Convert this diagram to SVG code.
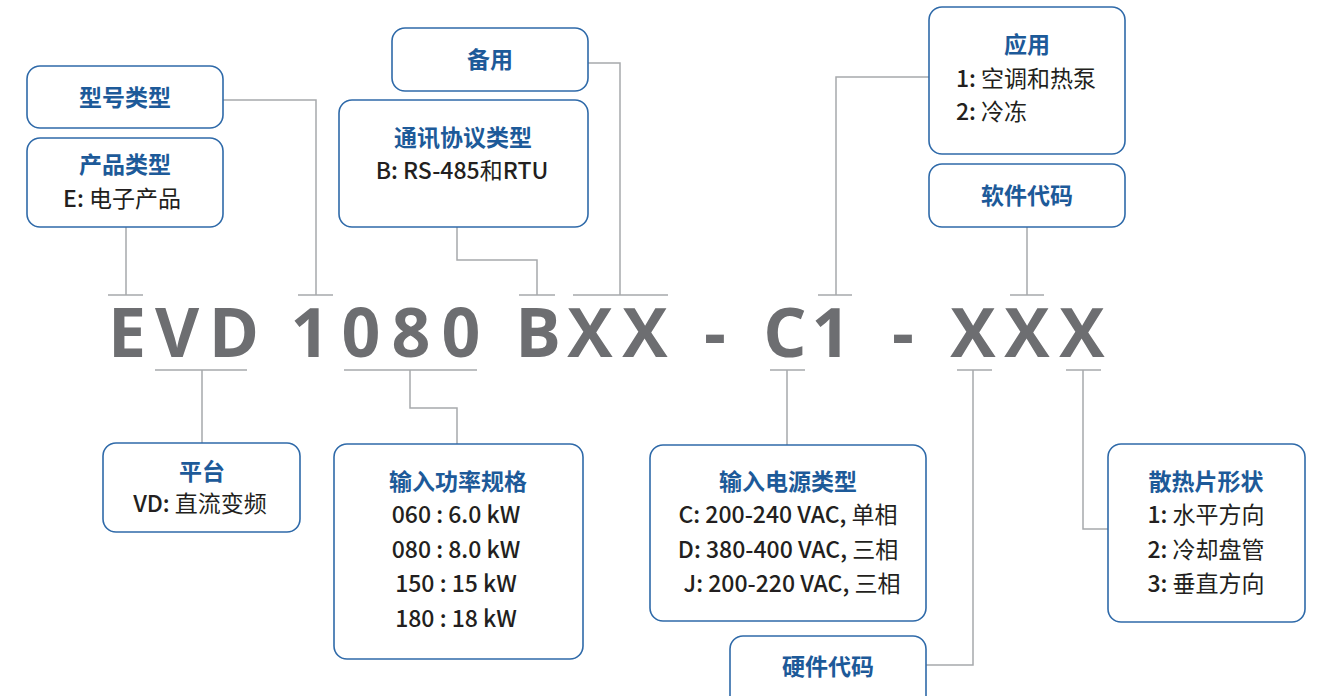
<svg xmlns="http://www.w3.org/2000/svg" width="1318" height="696" viewBox="0 0 1318 696">
<style>
.box{fill:#fff;stroke:#2f6aa9;stroke-width:1.6}
.t{font-family:"Noto Sans CJK SC","Noto Sans",sans-serif;font-size:23px;font-weight:700;fill:#1d5a99;text-anchor:middle}
.b{font-family:"Noto Sans CJK SC","Noto Sans",sans-serif;font-size:23px;font-weight:400;fill:#231f20;text-anchor:middle}
.b tspan{font-weight:500}
.bl{text-anchor:start}
.big{font-family:"Open Sans","Liberation Sans",sans-serif;font-size:68px;font-weight:700;fill:#6d6e71;text-anchor:middle}
.c{fill:none;stroke:#a7a9ac;stroke-width:1.5}
</style>
<rect width="1318" height="696" fill="#fff"/>
<g id="connectors">
<path class="c" d="M108 295H143M126 227V295"/>
<path class="c" d="M298 295H333M223 100H316V295"/>
<path class="c" d="M519 295H555M457 227V260H537V295"/>
<path class="c" d="M573 295H668M588 63H620V295"/>
<path class="c" d="M818 295H852M929 77H836V295"/>
<path class="c" d="M1010 295H1044M1027 227V295"/>
<path class="c" d="M155 370H247M202 370V443"/>
<path class="c" d="M344 370H477M410 370V408H457V444"/>
<path class="c" d="M770 370H805M787 370V445"/>
<path class="c" d="M957 370H992M973 370V665H926"/>
<path class="c" d="M1066 370H1101M1083 370V529H1108"/>
</g>
<g id="code">
<text class="big" y="357"><tspan x="127">E</tspan><tspan x="177">V</tspan><tspan x="234">D</tspan><tspan x="310">1</tspan><tspan x="361">0</tspan><tspan x="411">8</tspan><tspan x="461">0</tspan><tspan x="538">B</tspan><tspan x="590">X</tspan><tspan x="645">X</tspan><tspan x="715">-</tspan><tspan x="785">C</tspan><tspan x="831">1</tspan><tspan x="903">-</tspan><tspan x="973">X</tspan><tspan x="1027">X</tspan><tspan x="1082">X</tspan></text>
</g>
<g id="model-type">
<rect class="box" x="27" y="66" width="196" height="62" rx="13"/>
<text class="t" x="125" y="106">型号类型</text>
</g>
<g id="product-type">
<rect class="box" x="27" y="138" width="196" height="89" rx="13"/>
<text class="t" x="125" y="173">产品类型</text>
<text class="b" x="122" y="207"><tspan>E:</tspan> 电子产品</text>
</g>
<g id="spare">
<rect class="box" x="392" y="28" width="196" height="63" rx="13"/>
<text class="t" x="490" y="68">备用</text>
</g>
<g id="protocol">
<rect class="box" x="339" y="100" width="249" height="127" rx="13"/>
<text class="t" x="463" y="146">通讯协议类型</text>
<text class="b" x="462" y="179"><tspan>B: RS-485</tspan>和<tspan>RTU</tspan></text>
</g>
<g id="application">
<rect class="box" x="929" y="7" width="196" height="147" rx="13"/>
<text class="t" x="1027" y="53">应用</text>
<text class="b bl" x="956" y="87"><tspan>1:</tspan> 空调和热泵</text>
<text class="b bl" x="956" y="120"><tspan>2:</tspan> 冷冻</text>
</g>
<g id="software">
<rect class="box" x="929" y="164" width="196" height="63" rx="13"/>
<text class="t" x="1027" y="204">软件代码</text>
</g>
<g id="platform">
<rect class="box" x="103" y="443" width="197" height="89" rx="13"/>
<text class="t" x="202" y="480">平台</text>
<text class="b" x="200" y="512"><tspan>VD:</tspan> 直流变频</text>
</g>
<g id="power">
<rect class="box" x="334" y="444" width="249" height="215" rx="13"/>
<text class="t" x="458" y="490">输入功率规格</text>
<text class="b" x="456" y="523"><tspan>060 : 6.0 kW</tspan></text>
<text class="b" x="456" y="558"><tspan>080 : 8.0 kW</tspan></text>
<text class="b" x="456" y="592"><tspan>150 : 15 kW</tspan></text>
<text class="b" x="456" y="627"><tspan>180 : 18 kW</tspan></text>
</g>
<g id="supply">
<rect class="box" x="650" y="445" width="276" height="176" rx="13"/>
<text class="t" x="788" y="490">输入电源类型</text>
<text class="b" x="788" y="523"><tspan>C: 200-240 VAC,</tspan> 单相</text>
<text class="b" x="788" y="558"><tspan>D: 380-400 VAC,</tspan> 三相</text>
<text class="b" x="792" y="592"><tspan>J: 200-220 VAC,</tspan> 三相</text>
</g>
<g id="hardware">
<rect class="box" x="730" y="636" width="196" height="75" rx="13"/>
<text class="t" x="828" y="675">硬件代码</text>
</g>
<g id="heatsink">
<rect class="box" x="1108" y="444" width="197" height="178" rx="13"/>
<text class="t" x="1206" y="490">散热片形状</text>
<text class="b" x="1206" y="523"><tspan>1:</tspan> 水平方向</text>
<text class="b" x="1206" y="558"><tspan>2:</tspan> 冷却盘管</text>
<text class="b" x="1206" y="592"><tspan>3:</tspan> 垂直方向</text>
</g>
</svg>
